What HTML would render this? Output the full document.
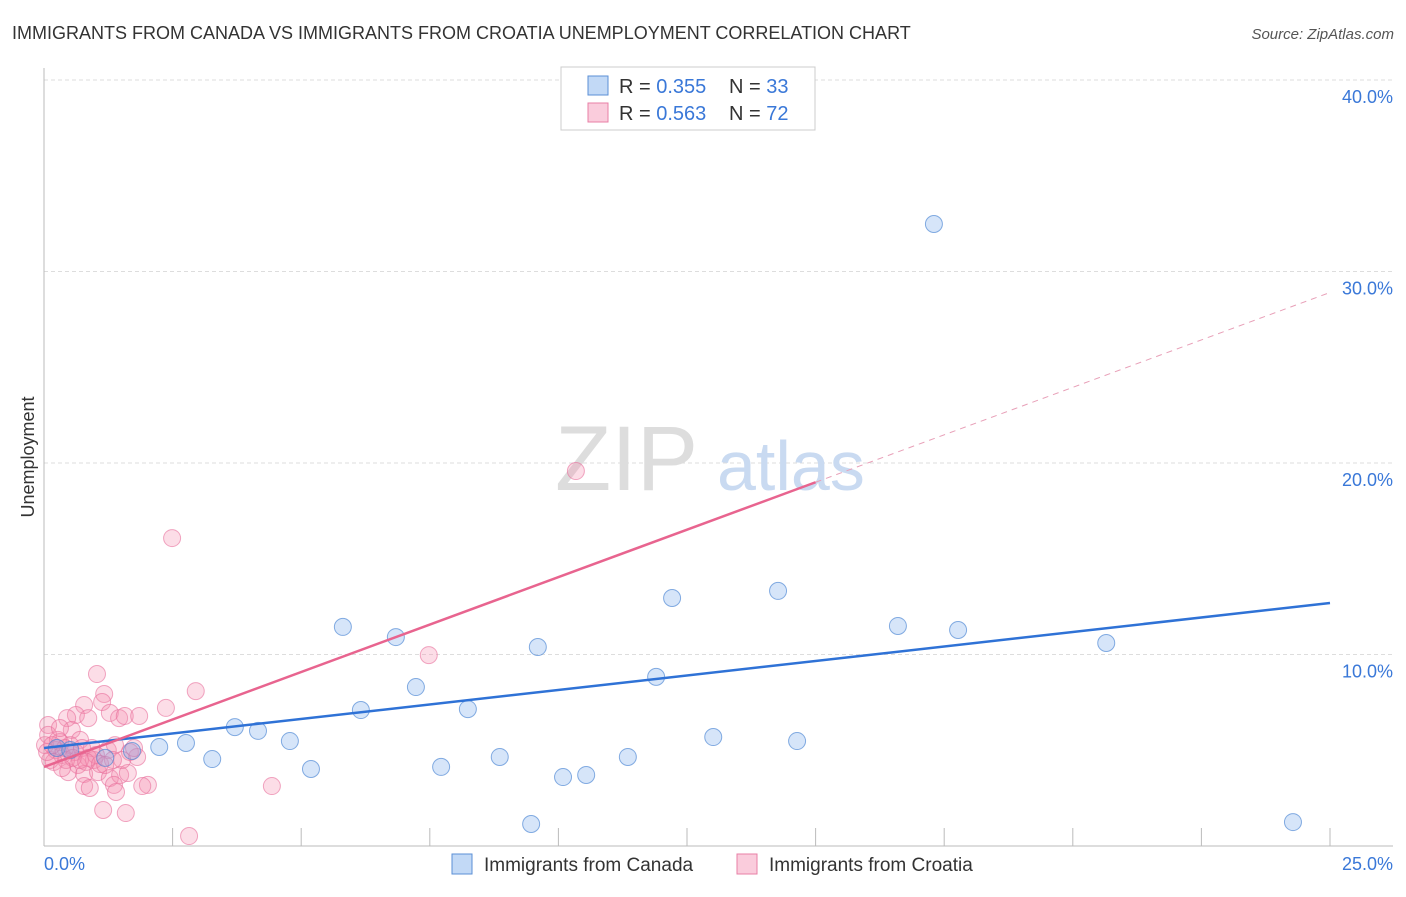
<!DOCTYPE html>
<html><head><meta charset="utf-8"><style>
body{margin:0;background:#fff;font-family:"Liberation Sans",sans-serif}
svg text{font-family:"Liberation Sans",sans-serif}
</style></head><body>
<svg id="c" width="1406" height="892"></svg>
<script>
const blueX=[5.81,6.84,7.23,6.16,8.24,9.60,12.21,11.90,14.27,16.60,17.77,20.65,17.30,2.24,2.76,3.27,3.71,4.16,4.78,5.19,7.72,8.86,9.47,10.09,10.54,11.35,13.01,14.64,24.28,1.19,1.71,0.25,0.51];
const blueY=[11.44,10.91,8.30,7.10,7.15,10.39,12.95,8.83,13.32,11.49,11.28,10.60,32.48,5.17,5.38,4.54,6.21,6.01,5.48,4.02,4.13,4.65,1.15,3.60,3.71,4.65,5.69,5.48,1.25,4.60,4.96,5.12,5.01];
const pinkX=[2.49,10.34,7.48,2.95,1.03,1.17,2.37,1.13,0.78,0.62,0.86,0.45,1.28,1.46,1.57,1.85,0.08,0.54,0.70,0.31,0.93,1.24,1.38,1.67,1.81,0.97,0.66,0.47,0.78,1.05,1.28,1.48,1.63,0.78,0.89,1.36,1.40,2.02,1.91,4.43,1.15,1.59,2.82,0.12,0.23,0.35,0.02,0.08,0.51,0.60,0.74,0.86,0.43,0.19,0.70,1.01,0.27,0.41,0.56,0.06,0.16,0.82,0.35,1.09,1.52,0.31,1.75,1.34,1.19];
const pinkY=[16.08,19.58,9.97,8.09,8.98,7.94,7.21,7.52,7.36,6.84,6.68,6.68,6.95,6.68,6.79,6.79,6.32,6.06,5.54,5.43,5.12,5.01,5.27,4.91,4.65,4.49,4.23,3.86,3.76,3.86,3.55,3.71,3.81,3.13,3.03,3.19,2.82,3.19,3.13,3.13,1.88,1.72,0.52,4.49,5.01,4.75,5.27,5.80,5.27,4.91,5.12,4.60,4.49,4.39,4.49,4.75,5.54,5.12,4.60,4.91,5.27,4.39,4.07,4.28,4.49,6.16,5.12,4.49,4.23];
const blueTrend=[5.12,12.69]; // y at x=0 and x=25
const pinkTrend=[4.13,0.991]; // intercept, slope
const pinkSolidEnd=15;
const yTicks=[10,20,30,40];
const xTickLabels=["0.0%","25.0%"];
const NS="http://www.w3.org/2000/svg";
const svg=document.getElementById('c');
const X=v=>44+v*51.44, Y=v=>846-v*19.15;
function el(t,a,p){const e=document.createElementNS(NS,t);for(const k in a)e.setAttribute(k,a[k]);(p||svg).appendChild(e);return e;}
// title
let t=el('text',{x:12,y:39,'font-size':18,fill:'#333'});t.textContent='IMMIGRANTS FROM CANADA VS IMMIGRANTS FROM CROATIA UNEMPLOYMENT CORRELATION CHART';

t=el('text',{x:1394,y:39,'font-size':15,fill:'#555','text-anchor':'end','font-style':'italic'});t.textContent='Source: ZipAtlas.com';

// grid
yTicks.forEach(v=>{
 const g=el('line',{x1:44,x2:1393,y1:Y(v),y2:Y(v),stroke:'#ddd','stroke-dasharray':'4,3'});
 
 const l=el('text',{x:1393,y:Y(v)+23,'font-size':18,fill:'#3a78d8','text-anchor':'end'});l.textContent=v.toFixed(1)+'%';
 
});
// axes
let a=el('line',{x1:44,x2:44,y1:68,y2:846,stroke:'#bbb'});
a=el('line',{x1:44,x2:1393,y1:846,y2:846,stroke:'#bbb'});
for(let i=1;i<=10;i++){const tk=el('line',{x1:X(i*2.5),x2:X(i*2.5),y1:828,y2:846,stroke:'#bbb'});}
t=el('text',{x:44,y:870,'font-size':18,fill:'#3a78d8'});t.textContent=xTickLabels[0];
t=el('text',{x:1393,y:870,'font-size':18,fill:'#3a78d8','text-anchor':'end'});t.textContent=xTickLabels[1];
t=el('text',{x:34,y:457,'font-size':18,fill:'#333','text-anchor':'middle',transform:'rotate(-90 34 457)'});t.textContent='Unemployment';

// watermark
t=el('text',{x:555,y:490,'font-size':92,fill:'#ddd','font-family':'Liberation Serif'});t.textContent='ZIP';
t=el('text',{x:717,y:490,'font-size':70,fill:'#c9daf1'});t.textContent='atlas';
// points
pinkX.forEach((x,i)=>{const c=el('circle',{cx:X(x),cy:Y(pinkY[i]),r:8.5,fill:'rgba(244,143,177,0.3)',stroke:'rgba(232,110,155,0.6)','stroke-width':1});
 });
blueX.forEach((x,i)=>{const c=el('circle',{cx:X(x),cy:Y(blueY[i]),r:8.5,fill:'rgba(120,170,235,0.3)',stroke:'rgba(70,130,210,0.65)','stroke-width':1});
 });
// trends
let l=el('line',{x1:X(0),y1:Y(blueTrend[0]),x2:X(25),y2:Y(blueTrend[1]),stroke:'#2f72d6','stroke-width':2.5});

l=el('line',{x1:X(0),y1:Y(pinkTrend[0]),x2:X(pinkSolidEnd),y2:Y(pinkTrend[0]+pinkTrend[1]*pinkSolidEnd),stroke:'#e8648f','stroke-width':2.5});

l=el('line',{x1:X(pinkSolidEnd),y1:Y(pinkTrend[0]+pinkTrend[1]*pinkSolidEnd),x2:X(25),y2:Y(pinkTrend[0]+pinkTrend[1]*25),stroke:'#e8a0b8','stroke-width':1,'stroke-dasharray':'6,5'});

// legend top
const lg=el('g',{});
el('rect',{x:561,y:67,width:254,height:63,fill:'#fff',stroke:'#ccc'},lg);
[[ '0.355','33','rgba(120,170,235,0.45)','#5b8fd6',86],['0.563','72','rgba(244,143,177,0.45)','#e87fa6',113]].forEach(r=>{
 el('rect',{x:588,y:r[4]-10,width:20,height:19,fill:r[2],stroke:r[3]},lg);
 const tx=el('text',{x:619,y:r[4]+7,'font-size':20,fill:'#333'},lg);
 tx.innerHTML='R = <tspan fill="#3a78d8">'+r[0]+'</tspan><tspan x="729">N = </tspan><tspan fill="#3a78d8">'+r[1]+'</tspan>';
});
// bottom legend
[[452,'rgba(120,170,235,0.45)','#5b8fd6','Immigrants from Canada','legend-canada'],[737,'rgba(244,143,177,0.45)','#e87fa6','Immigrants from Croatia','legend-croatia']].forEach(r=>{
 const g=el('g',{});
 el('rect',{x:r[0],y:854,width:20,height:20,fill:r[1],stroke:r[2]},g);
 const tx=el('text',{x:r[0]+32,y:871,'font-size':19,fill:'#333'},g);tx.textContent=r[3];
});
</script>
</body></html>
